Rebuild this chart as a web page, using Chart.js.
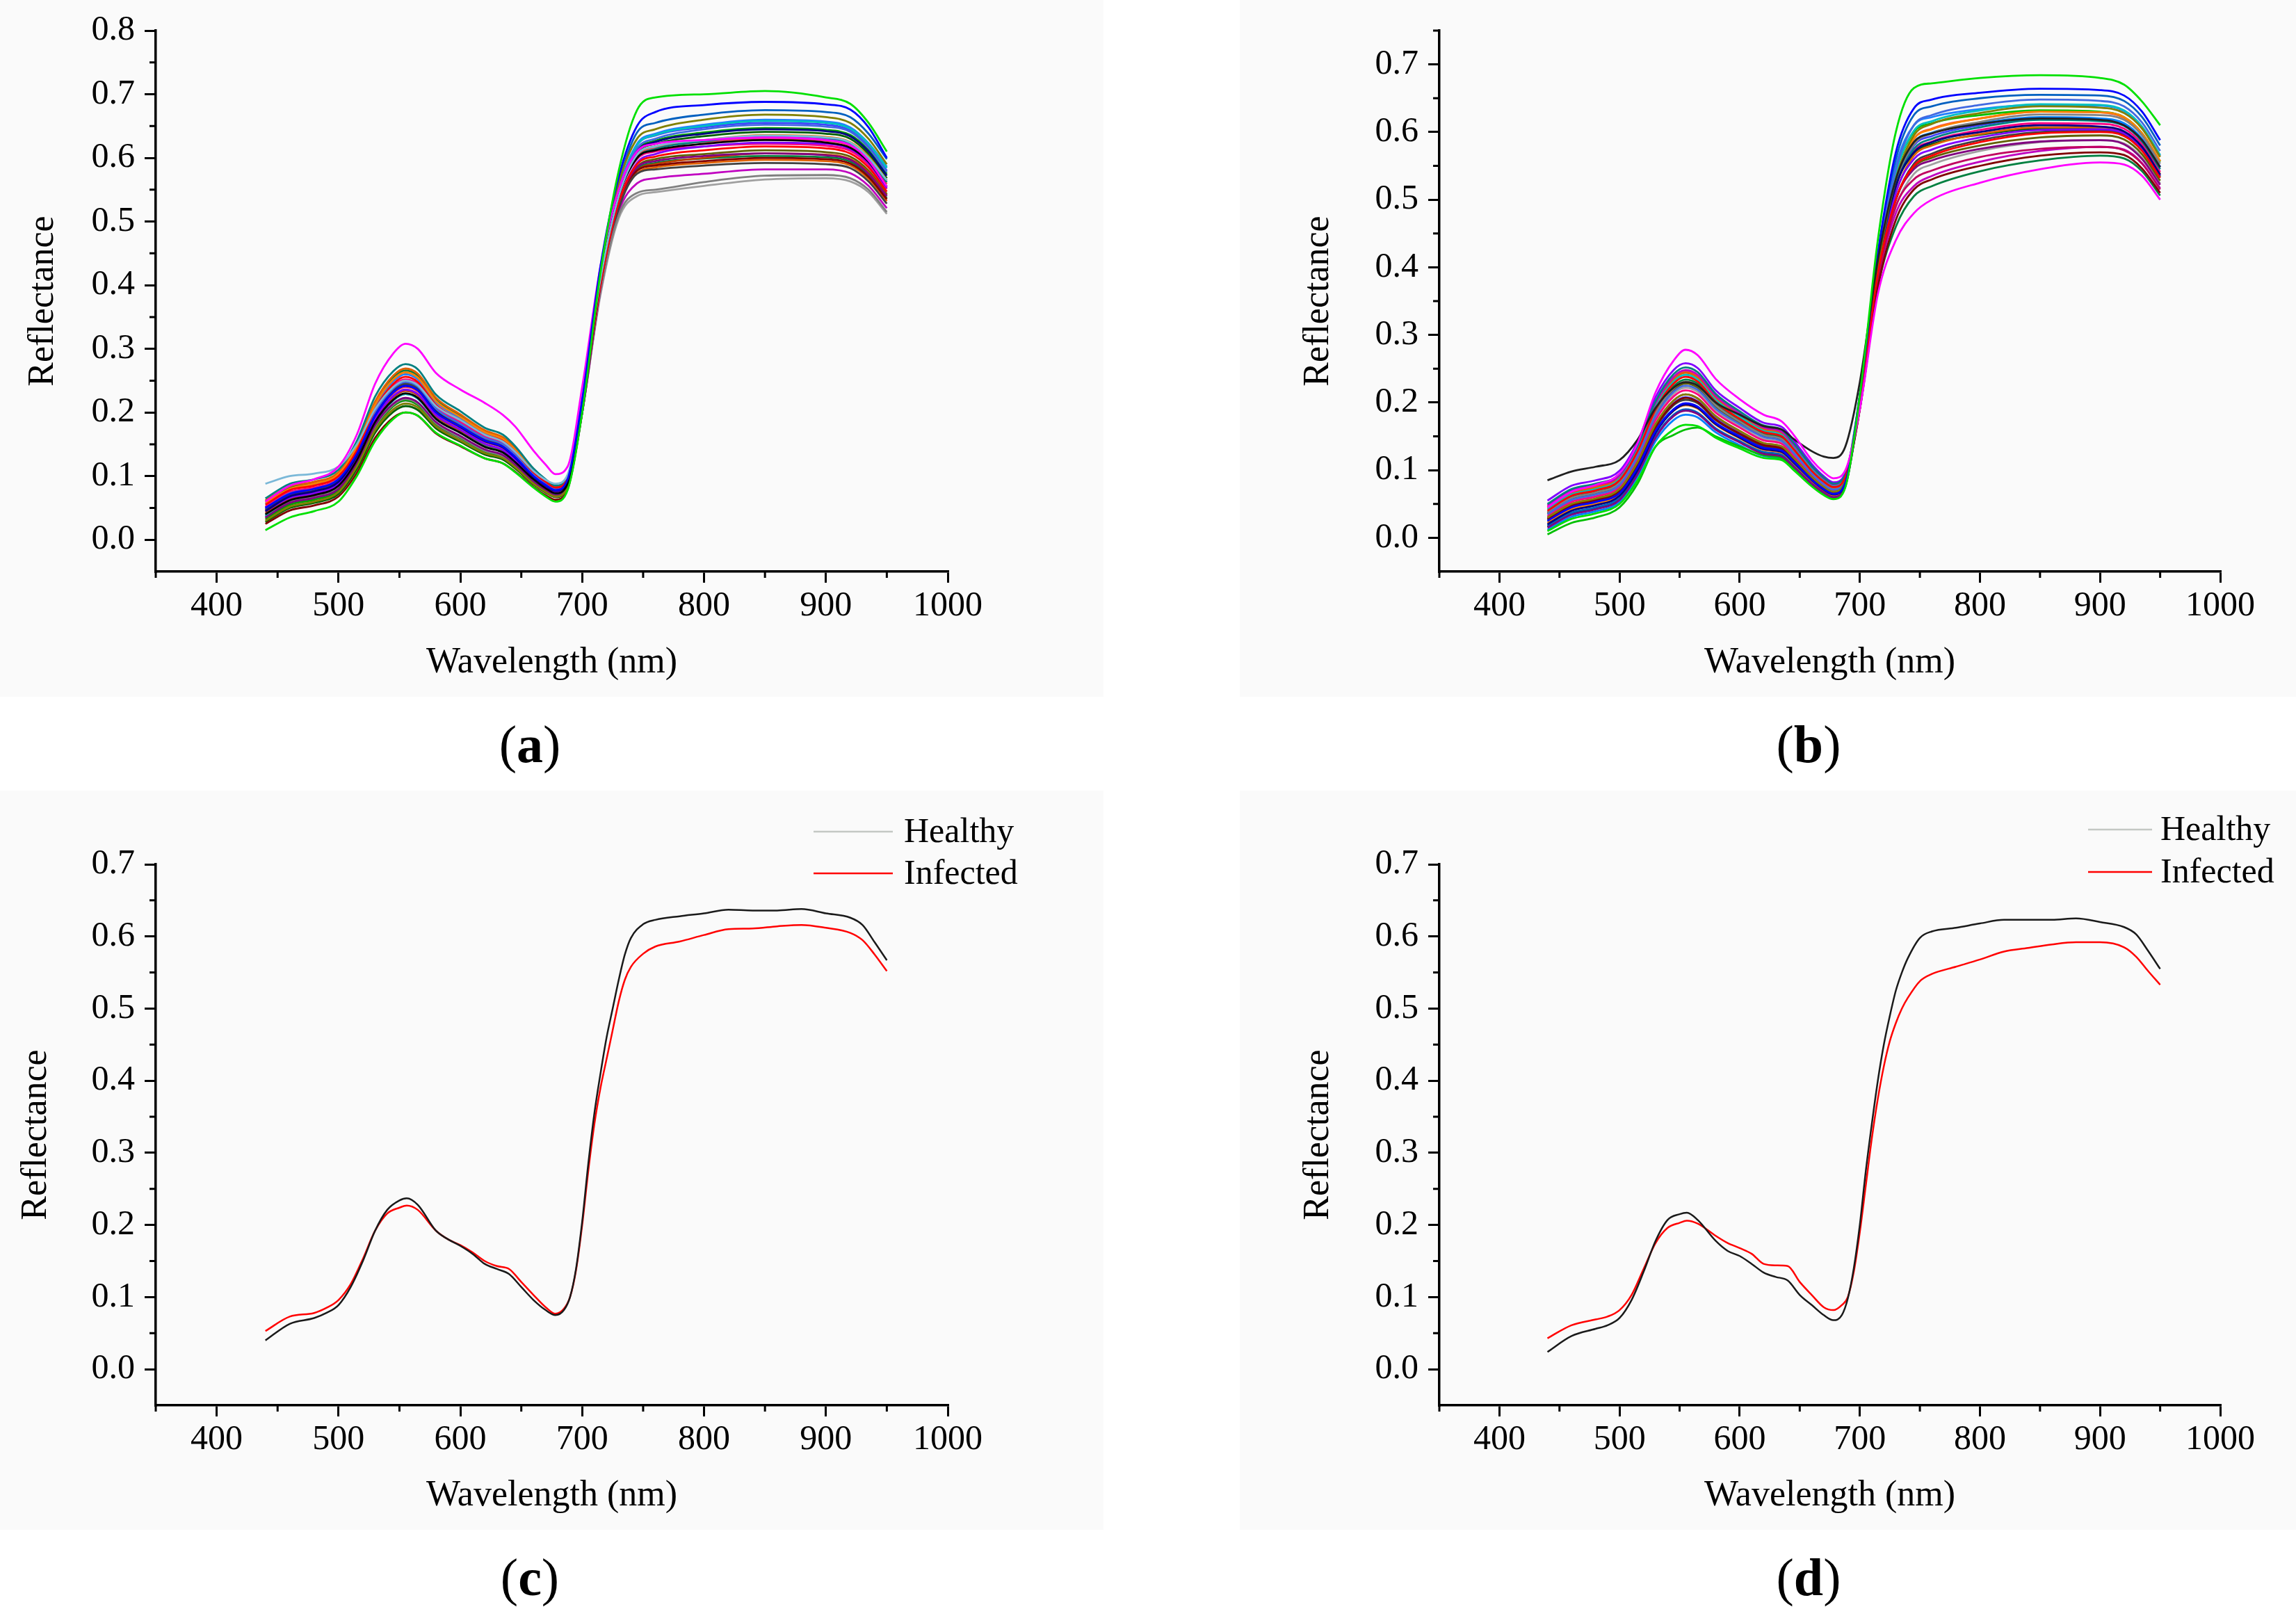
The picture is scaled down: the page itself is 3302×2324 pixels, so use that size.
<!DOCTYPE html>
<html><head><meta charset="utf-8">
<script src="https://cdn.jsdelivr.net/npm/chart.js@4.4.1/dist/chart.umd.min.js"></script>
<style>
html,body{margin:0;padding:0;background:#fff;width:3302px;height:2324px;overflow:hidden;position:relative;font-family:"Liberation Serif","Times New Roman",serif;}
.bg{position:absolute;background:#fafafa;}
canvas{position:absolute;}
.lab{position:absolute;font-size:76px;color:#000;transform:translate(-50%,-50%);line-height:1;white-space:nowrap;}
</style></head><body>
<div class="bg" style="left:0;top:0;width:1587px;height:1002px"></div>
<div class="bg" style="left:1783px;top:0;width:1519px;height:1002px"></div>
<div class="bg" style="left:0;top:1137px;width:1587px;height:1063px"></div>
<div class="bg" style="left:1783px;top:1137px;width:1519px;height:1063px"></div>
<canvas id="ca" width="1600" height="1000" style="left:0;top:0;width:1600px;height:1000px"></canvas>
<canvas id="cb" width="1652" height="1000" style="left:1650px;top:0;width:1652px;height:1000px"></canvas>
<canvas id="cc" width="1600" height="1063" style="left:0;top:1137px;width:1600px;height:1063px"></canvas>
<canvas id="cd" width="1652" height="1063" style="left:1650px;top:1137px;width:1652px;height:1063px"></canvas>
<div class="lab" style="left:762px;top:1070px">(<b>a</b>)</div>
<div class="lab" style="left:2601px;top:1070px">(<b>b</b>)</div>
<div class="lab" style="left:762px;top:2268px">(<b>c</b>)</div>
<div class="lab" style="left:2601px;top:2268px">(<b>d</b>)</div>
<script>
// ---------- axis ticks ----------
const xTicks = [400, 500, 600, 700, 800, 900, 1000];
const yTicksA = [0, 0.1, 0.2, 0.3, 0.4, 0.5, 0.6, 0.7, 0.8];
const yTicksB = [0, 0.1, 0.2, 0.3, 0.4, 0.5, 0.6, 0.7];
const yTicksCD = [0, 0.1, 0.2, 0.3, 0.4, 0.5, 0.6, 0.7];

// ---------- wavelengths ----------
const wlAB = [440,460,480,500,515,530,545,555,565,580,600,620,635,645,660,670,678,688,700,715,730,745,760,800,850,900,920,935,950];
const wlCD = [440,460,480,490,500,510,520,530,540,550,556,565,580,590,600,610,620,630,640,650,660,670,678,685,690,695,700,705,710,715,720,725,730,735,740,750,760,780,800,820,840,860,880,900,920,930,940,950];

// ---------- panel (a) spectra ----------
const a01 = [.015,.035,.045,.060,.100,.155,.190,.200,.195,.168,.148,.128,.120,.106,.082,.068,.060,.078,.20,.42,.58,.675,.695,.700,.705,.695,.685,.655,.610];
const a02 = [.050,.072,.080,.095,.135,.195,.232,.242,.235,.200,.178,.156,.146,.130,.100,.086,.078,.095,.22,.43,.57,.650,.672,.683,.688,.684,.676,.648,.600];
const a03 = [.060,.085,.095,.115,.165,.245,.293,.308,.300,.262,.236,.215,.196,.178,.140,.118,.103,.115,.24,.43,.55,.610,.622,.628,.632,.628,.620,.596,.555];
const a04 = [.088,.100,.104,.115,.150,.205,.240,.250,.243,.210,.188,.165,.154,.138,.108,.094,.088,.102,.22,.41,.54,.605,.618,.628,.635,.632,.624,.600,.565];
const a05 = [.040,.062,.070,.085,.125,.185,.220,.230,.223,.190,.168,.146,.137,.122,.095,.081,.073,.088,.21,.41,.54,.600,.612,.622,.628,.624,.616,.594,.555];
const a06 = [.055,.078,.085,.100,.140,.205,.245,.256,.248,.212,.188,.165,.155,.138,.106,.091,.082,.096,.21,.40,.53,.590,.602,.612,.618,.615,.607,.585,.547];
const a07 = [.030,.052,.060,.075,.115,.172,.205,.214,.208,.178,.156,.136,.128,.114,.088,.075,.068,.083,.21,.42,.56,.630,.645,.660,.668,.664,.655,.630,.590];
const a08 = [.045,.068,.076,.091,.132,.195,.232,.242,.235,.201,.177,.155,.145,.129,.099,.085,.077,.092,.21,.41,.545,.610,.625,.638,.645,.642,.634,.610,.572];
const a09 = [.065,.088,.095,.110,.155,.225,.265,.276,.268,.228,.202,.176,.165,.147,.112,.095,.085,.098,.22,.41,.54,.600,.614,.626,.633,.630,.622,.600,.562];
const a10 = [.035,.058,.066,.080,.120,.180,.214,.223,.216,.185,.163,.142,.133,.118,.091,.078,.070,.085,.20,.40,.53,.585,.595,.603,.607,.604,.597,.575,.540];
const a11 = [.050,.073,.080,.096,.137,.200,.238,.248,.241,.206,.182,.160,.150,.133,.103,.088,.080,.094,.21,.41,.55,.615,.630,.645,.652,.649,.641,.616,.578];
const a12 = [.025,.046,.054,.068,.105,.160,.192,.200,.195,.167,.147,.128,.120,.107,.083,.070,.063,.079,.20,.40,.53,.580,.588,.595,.600,.598,.591,.570,.535];
const a13 = [.040,.060,.068,.082,.120,.178,.212,.221,.214,.183,.161,.140,.131,.116,.090,.077,.069,.084,.20,.39,.51,.545,.550,.562,.572,.573,.568,.550,.515];
const a14 = [.058,.080,.088,.103,.145,.212,.252,.263,.255,.218,.193,.169,.158,.141,.108,.092,.083,.097,.21,.41,.545,.605,.618,.628,.636,.633,.625,.602,.565];
const a15 = [.045,.066,.073,.088,.128,.190,.226,.236,.229,.196,.173,.151,.141,.126,.097,.083,.075,.090,.21,.40,.53,.592,.606,.618,.624,.622,.614,.592,.553];
const a16 = [.052,.075,.082,.097,.139,.203,.242,.252,.245,.209,.185,.162,.152,.135,.104,.089,.080,.094,.21,.41,.54,.598,.610,.618,.622,.619,.611,.589,.551];
const a17 = [.038,.060,.068,.083,.123,.184,.219,.229,.222,.190,.168,.147,.137,.122,.094,.080,.072,.087,.21,.41,.55,.620,.636,.650,.658,.655,.646,.622,.584];
const a18 = [.048,.070,.078,.093,.134,.198,.236,.246,.239,.204,.180,.158,.148,.131,.101,.086,.078,.092,.21,.40,.52,.575,.582,.588,.592,.590,.584,.563,.528];
const a19 = [.033,.055,.063,.077,.117,.176,.210,.219,.212,.182,.160,.139,.130,.116,.090,.077,.069,.085,.21,.41,.545,.612,.627,.640,.647,.644,.636,.612,.575];
const a20 = [.042,.064,.072,.086,.126,.188,.224,.234,.227,.194,.171,.149,.139,.124,.096,.082,.074,.089,.21,.40,.525,.580,.590,.600,.607,.605,.598,.577,.541];
const a21 = [.038,.060,.068,.083,.123,.184,.219,.229,.222,.190,.168,.147,.137,.122,.094,.080,.072,.087,.21,.42,.56,.640,.655,.668,.675,.672,.664,.638,.598];
const a22 = [.047,.069,.077,.092,.133,.196,.234,.244,.237,.202,.179,.157,.147,.130,.100,.085,.077,.091,.21,.40,.53,.586,.598,.606,.612,.609,.602,.580,.543];
const a23 = [.036,.057,.065,.079,.118,.176,.210,.219,.212,.181,.160,.139,.130,.115,.089,.076,.068,.083,.20,.39,.515,.560,.568,.575,.582,.582,.576,.556,.521];
const a24 = [.056,.079,.086,.101,.143,.209,.249,.260,.252,.216,.191,.167,.157,.139,.107,.091,.082,.096,.21,.41,.55,.622,.638,.652,.660,.657,.648,.623,.586];
const a25 = [.062,.084,.091,.106,.149,.217,.258,.269,.261,.223,.197,.172,.161,.144,.110,.094,.085,.098,.21,.40,.525,.576,.585,.592,.597,.595,.588,.567,.532];
const a26 = [.028,.050,.058,.072,.111,.168,.201,.210,.204,.175,.154,.134,.126,.112,.087,.074,.067,.082,.21,.41,.545,.608,.622,.634,.641,.638,.630,.606,.568];
const a27 = [.032,.053,.061,.075,.114,.172,.205,.214,.208,.178,.157,.137,.128,.114,.088,.075,.067,.082,.20,.385,.505,.540,.546,.556,.566,.568,.563,.546,.512];
const a28 = [.044,.066,.074,.089,.130,.193,.230,.240,.233,.199,.176,.154,.144,.128,.098,.084,.076,.090,.21,.41,.54,.603,.616,.625,.630,.627,.619,.597,.559];
const a29 = [.051,.074,.081,.096,.138,.202,.240,.250,.243,.208,.184,.161,.151,.134,.103,.088,.080,.094,.21,.41,.55,.620,.635,.648,.655,.652,.643,.618,.580];
const a30 = [.060,.082,.090,.104,.147,.214,.255,.266,.258,.221,.195,.171,.160,.142,.109,.093,.084,.097,.21,.40,.53,.582,.592,.599,.603,.601,.594,.572,.537];

// ---------- panel (b) spectra ----------
const b01 = [.010,.028,.036,.050,.085,.135,.160,.167,.165,.148,.132,.118,.115,.100,.076,.063,.057,.075,.21,.44,.60,.665,.672,.680,.684,.680,.670,.645,.610];
const b02 = [.045,.068,.078,.095,.140,.215,.262,.278,.270,.235,.205,.182,.172,.152,.115,.097,.088,.100,.19,.36,.44,.480,.500,.525,.545,.555,.552,.535,.500];
const b03 = [.085,.098,.105,.115,.145,.192,.222,.230,.225,.200,.182,.165,.160,.146,.128,.120,.118,.135,.23,.41,.53,.585,.598,.612,.620,.618,.610,.588,.548];
const b04 = [.025,.045,.053,.066,.104,.158,.190,.199,.194,.170,.150,.133,.129,.113,.086,.072,.065,.082,.21,.42,.57,.635,.648,.658,.664,.662,.654,.630,.588];
const b05 = [.040,.062,.070,.085,.128,.190,.228,.238,.231,.201,.176,.156,.150,.131,.099,.083,.075,.090,.20,.39,.50,.550,.565,.585,.598,.600,.594,.572,.532];
const b06 = [.030,.050,.058,.072,.112,.168,.203,.212,.206,.180,.158,.140,.135,.118,.090,.075,.068,.085,.20,.40,.53,.595,.612,.628,.638,.636,.628,.605,.563];
const b07 = [.020,.040,.048,.062,.100,.155,.188,.197,.192,.168,.148,.131,.127,.111,.085,.071,.064,.081,.20,.40,.52,.570,.585,.600,.610,.608,.601,.578,.537];
const b08 = [.050,.072,.080,.094,.137,.202,.242,.252,.245,.213,.187,.166,.160,.140,.106,.089,.080,.094,.20,.40,.52,.575,.590,.607,.618,.616,.609,.586,.545];
const b09 = [.015,.034,.042,.056,.094,.148,.180,.188,.183,.160,.141,.124,.120,.105,.080,.067,.060,.077,.20,.39,.50,.545,.558,.575,.586,.588,.582,.560,.522];
const b10 = [.035,.056,.064,.078,.120,.180,.216,.225,.219,.191,.168,.149,.143,.125,.095,.079,.071,.087,.21,.41,.545,.610,.625,.640,.648,.646,.638,.614,.572];
const b11 = [.028,.048,.056,.070,.109,.164,.198,.207,.201,.175,.154,.137,.132,.115,.088,.074,.067,.084,.19,.37,.47,.515,.530,.550,.565,.570,.566,.546,.510];
const b12 = [.038,.059,.067,.081,.123,.184,.221,.231,.225,.196,.172,.152,.146,.128,.097,.081,.073,.089,.20,.40,.525,.582,.598,.615,.626,.625,.618,.595,.553];
const b13 = [.022,.042,.050,.064,.102,.156,.188,.196,.191,.167,.147,.130,.126,.110,.084,.070,.063,.080,.20,.40,.53,.590,.604,.620,.630,.629,.622,.598,.557];
const b14 = [.055,.077,.085,.099,.142,.208,.248,.258,.251,.218,.192,.170,.164,.144,.109,.091,.082,.096,.20,.39,.51,.560,.574,.592,.603,.604,.598,.576,.536];
const b15 = [.032,.053,.061,.075,.116,.174,.209,.218,.212,.185,.163,.144,.139,.121,.092,.077,.070,.086,.20,.40,.52,.572,.586,.603,.613,.612,.605,.582,.541];
const b16 = [.042,.064,.072,.087,.130,.193,.231,.241,.234,.204,.179,.158,.152,.133,.101,.084,.076,.091,.21,.41,.54,.602,.616,.632,.641,.640,.632,.608,.566];
const b17 = [.005,.022,.030,.045,.080,.135,.152,.160,.163,.150,.135,.122,.118,.103,.078,.064,.058,.076,.20,.41,.54,.600,.613,.625,.632,.630,.622,.598,.556];
const b18 = [.026,.046,.054,.068,.107,.162,.196,.204,.199,.174,.153,.135,.131,.114,.087,.073,.066,.083,.20,.39,.50,.553,.568,.588,.600,.602,.596,.574,.534];
const b19 = [.012,.031,.039,.053,.090,.143,.174,.182,.178,.156,.137,.121,.117,.102,.078,.065,.059,.077,.20,.40,.53,.585,.599,.613,.622,.620,.613,.590,.548];
const b20 = [.030,.050,.058,.072,.112,.168,.203,.212,.206,.180,.158,.140,.135,.118,.090,.075,.068,.085,.19,.38,.49,.530,.543,.563,.575,.578,.573,.553,.515];
const b21 = [.018,.037,.045,.059,.097,.150,.182,.190,.185,.162,.143,.127,.123,.107,.082,.068,.062,.079,.21,.42,.56,.625,.638,.650,.655,.654,.646,.622,.580];
const b22 = [.036,.057,.065,.079,.121,.182,.218,.228,.222,.193,.170,.150,.145,.127,.096,.080,.072,.088,.20,.39,.50,.548,.562,.580,.592,.595,.589,.567,.528];
const b23 = [.048,.070,.078,.092,.135,.199,.238,.248,.241,.210,.184,.163,.157,.137,.104,.087,.078,.093,.20,.38,.48,.520,.535,.556,.572,.578,.574,.554,.517];
const b24 = [.024,.044,.052,.065,.103,.158,.190,.198,.193,.169,.149,.132,.128,.112,.085,.071,.064,.081,.21,.41,.55,.610,.622,.634,.640,.639,.631,.607,.565];
const b25 = [.044,.066,.074,.089,.131,.195,.234,.244,.237,.206,.181,.160,.154,.135,.102,.085,.077,.092,.20,.40,.51,.565,.580,.597,.607,.607,.600,.578,.538];
const b26 = [.016,.035,.043,.057,.095,.149,.181,.189,.184,.161,.142,.125,.121,.106,.081,.068,.061,.078,.20,.40,.52,.568,.582,.596,.605,.604,.597,.574,.534];
const b27 = [.034,.055,.063,.077,.118,.177,.213,.222,.216,.188,.165,.146,.141,.123,.093,.078,.071,.087,.20,.39,.49,.538,.552,.572,.585,.588,.583,.562,.524];
const b28 = [.046,.068,.076,.091,.133,.197,.236,.246,.239,.208,.183,.162,.156,.136,.103,.086,.078,.092,.21,.41,.53,.590,.605,.620,.630,.629,.621,.598,.557];
const b29 = [.028,.048,.056,.070,.110,.165,.199,.208,.202,.177,.155,.138,.133,.116,.089,.074,.067,.084,.20,.40,.52,.580,.594,.610,.620,.619,.612,.589,.549];
const b30 = [.038,.060,.068,.083,.125,.187,.224,.234,.228,.198,.174,.154,.148,.130,.098,.082,.074,.090,.19,.37,.46,.505,.520,.542,.558,.565,.561,.542,.506];

// ---------- panels (c) and (d) mean spectra ----------
const healthyC  = [.040,.063,.071,.078,.089,.114,.150,.192,.221,.234,.237,.228,.192,.180,.171,.160,.146,.139,.132,.114,.096,.082,.075,.082,.100,.140,.205,.285,.355,.410,.460,.500,.540,.575,.598,.617,.623,.628,.632,.637,.636,.636,.638,.632,.626,.616,.592,.567];
const infectedC = [.053,.073,.078,.085,.096,.118,.153,.192,.216,.224,.227,.221,.192,.180,.172,.162,.150,.143,.139,.121,.103,.086,.077,.084,.100,.138,.200,.275,.340,.390,.430,.470,.510,.540,.558,.576,.586,.593,.602,.610,.611,.614,.616,.612,.605,.595,.575,.552];
const healthyD  = [.024,.046,.056,.061,.071,.096,.135,.178,.207,.215,.217,.207,.178,.164,.157,.146,.134,.128,.123,.103,.089,.075,.068,.075,.098,.140,.200,.275,.340,.400,.450,.490,.525,.550,.570,.598,.607,.612,.618,.623,.623,.623,.625,.620,.613,.603,.580,.555];
const infectedD = [.043,.061,.069,.073,.082,.103,.139,.175,.196,.203,.206,.202,.185,.175,.168,.160,.146,.144,.143,.121,.103,.086,.082,.089,.100,.135,.190,.255,.320,.375,.420,.455,.480,.500,.515,.538,.548,.558,.568,.579,.584,.589,.592,.592,.585,.572,.552,.533];

const seriesA = [a01,a02,a03,a04,a05,a06,a07,a08,a09,a10,a11,a12,a13,a14,a15,a16,a17,a18,a19,a20,a21,a22,a23,a24,a25,a26,a27,a28,a29,a30];
const seriesB = [b01,b02,b03,b04,b05,b06,b07,b08,b09,b10,b11,b12,b13,b14,b15,b16,b17,b18,b19,b20,b21,b22,b23,b24,b25,b26,b27,b28,b29,b30];
const colorsA = ['#00e000','#0000ff','#ff00ff','#7ab8d8','#000000','#ff0000','#808000','#000080','#008080','#800080','#4169e1','#800000','#808080','#ff8000','#8000ff','#ff0080','#00c0c0','#404040','#00a000','#c04000','#0060c0','#606000','#c000c0','#2080ff','#e06000','#006000','#a0a0a0','#ff4040','#4040ff','#008040'];
const colorsB = ['#00e000','#ff00ff','#202020','#0000ff','#ff0000','#808000','#000080','#008080','#800080','#4169e1','#800000','#808080','#ff8000','#8000ff','#ff0080','#00c0c0','#00c000','#404040','#0080ff','#c00060','#0060c0','#606000','#c000c0','#2080ff','#e06000','#006000','#a0a0a0','#ff4040','#4040ff','#008040'];
const legendLabels = ['Healthy', 'Infected'];

// ---------- plugins ----------
const FONT = '"Liberation Serif","Times New Roman",serif';
const minorTicks = {
  id: 'minorTicks',
  afterDraw(chart) {
    const ctx = chart.ctx, xs = chart.scales.x, ys = chart.scales.y, ca = chart.chartArea;
    ctx.save();
    ctx.strokeStyle = '#000'; ctx.lineWidth = 3;
    ctx.beginPath();
    const xt = xs.ticks.map(t => t.value);
    const xm = xt.map(v => v - 50).concat([xt[xt.length - 1] + 50]);
    xm.forEach(v => { if (v >= xs.min - 1e-9 && v <= xs.max + 1e-9) { const p = xs.getPixelForValue(v); ctx.moveTo(p, ca.bottom); ctx.lineTo(p, ca.bottom + 9); } });
    const yt = ys.ticks.map(t => t.value);
    const ym = yt.map(v => v - 0.05).concat([yt[yt.length - 1] + 0.05]);
    ym.forEach(v => { if (v > ys.min + 1e-6 && v <= ys.max + 1e-6) { const p = ys.getPixelForValue(v); ctx.moveTo(ca.left, p); ctx.lineTo(ca.left - 9, p); } });
    ctx.stroke();
    ctx.restore();
  }
};
const cornerLegend = {
  id: 'cornerLegend',
  afterDraw(chart, args, opts) {
    if (!opts || !opts.show) return;
    const ctx = chart.ctx;
    ctx.save();
    ctx.font = '50px ' + FONT;
    ctx.textBaseline = 'middle';
    ctx.fillStyle = '#000';
    chart.data.datasets.forEach((ds, i) => {
      const y = opts.y0 + i * opts.dy;
      ctx.strokeStyle = opts.sample[i];
      ctx.lineWidth = 2.5;
      ctx.beginPath(); ctx.moveTo(opts.x1, y); ctx.lineTo(opts.x2, y); ctx.stroke();
      ctx.fillText(ds.label, opts.tx, y + 2);
    });
    ctx.restore();
  }
};

function makeChart(id, p) {
  const datasets = p.series.map((arr, i) => ({
    label: p.labels[i],
    data: p.wl.map((w, j) => ({ x: w, y: arr[j] })),
    borderColor: p.colors[i],
    borderWidth: p.lw,
    pointRadius: 0,
    fill: false,
    cubicInterpolationMode: 'monotone'
  }));
  return new Chart(document.getElementById(id), {
    type: 'line',
    data: { datasets },
    plugins: [minorTicks, cornerLegend],
    options: {
      responsive: false, animation: false, devicePixelRatio: 1,
      layout: { padding: { left: p.pl, top: p.pt, right: p.pr, bottom: 0 } },
      plugins: { legend: { display: false }, tooltip: { enabled: false }, cornerLegend: p.legend },
      scales: {
        x: {
          type: 'linear', min: 350, max: 1000,
          afterBuildTicks: s => { s.ticks = xTicks.map(v => ({ value: v })); },
          afterFit: s => { s.height = p.xh; },
          border: { display: true, color: '#000', width: 3.5 },
          grid: { drawOnChartArea: false, drawTicks: true, tickLength: 16, tickWidth: 3, tickColor: '#000', lineWidth: 3 },
          ticks: { color: '#000', font: { family: FONT, size: 50 }, padding: 4, maxRotation: 0, autoSkip: false, callback: v => String(v) },
          title: { display: true, text: 'Wavelength (nm)', color: '#000', font: { family: FONT, size: 52 }, padding: { top: 0, bottom: p.xtb } }
        },
        y: {
          type: 'linear', min: -0.05, max: p.ymax,
          afterBuildTicks: s => { s.ticks = p.yticks.map(v => ({ value: v })); },
          afterFit: s => { s.width = p.yw; },
          border: { display: true, color: '#000', width: 3.5 },
          grid: { drawOnChartArea: false, drawTicks: true, tickLength: 16, tickWidth: 3, tickColor: '#000', lineWidth: 3 },
          ticks: { color: '#000', font: { family: FONT, size: 50 }, padding: 14, autoSkip: false, callback: v => Number(v).toFixed(1) },
          title: { display: true, text: 'Reflectance', color: '#000', font: { family: FONT, size: 52 }, padding: { top: p.ytp, bottom: 0 } }
        }
      }
    }
  });
}

makeChart('ca', { wl: wlAB, series: seriesA, colors: colorsA, labels: seriesA.map((_, i) => 'Sample ' + (i + 1)), lw: 2.8,
  pl: 0, pt: 42, pr: 237, yw: 224, xh: 178, xtb: 15, ytp: 31, ymax: 0.8, yticks: yTicksA, legend: { show: false } });
makeChart('cb', { wl: wlAB, series: seriesB, colors: colorsB, labels: seriesB.map((_, i) => 'Sample ' + (i + 1)), lw: 2.8,
  pl: 184, pt: 42, pr: 109, yw: 236, xh: 178, xtb: 15, ytp: 31, ymax: 0.75, yticks: yTicksB, legend: { show: false } });
makeChart('cc', { wl: wlCD, series: [healthyC, infectedC], colors: ['#1a1a1a', '#ff0000'], labels: legendLabels, lw: 2.5,
  pl: 0, pt: 106, pr: 237, yw: 224, xh: 179, xtb: 17, ytp: 21, ymax: 0.7, yticks: yTicksCD,
  legend: { show: true, x1: 1170, x2: 1284, tx: 1300, y0: 59, dy: 60, sample: ['#c4c8c4', '#ff0000'] } });
makeChart('cd', { wl: wlCD, series: [healthyD, infectedD], colors: ['#1a1a1a', '#ff0000'], labels: legendLabels, lw: 2.5,
  pl: 184, pt: 106, pr: 109, yw: 236, xh: 179, xtb: 17, ytp: 31, ymax: 0.7, yticks: yTicksCD,
  legend: { show: true, x1: 1353, x2: 1445, tx: 1457, y0: 56, dy: 61, sample: ['#c4c8c4', '#ff0000'] } });
</script>
</body></html>
